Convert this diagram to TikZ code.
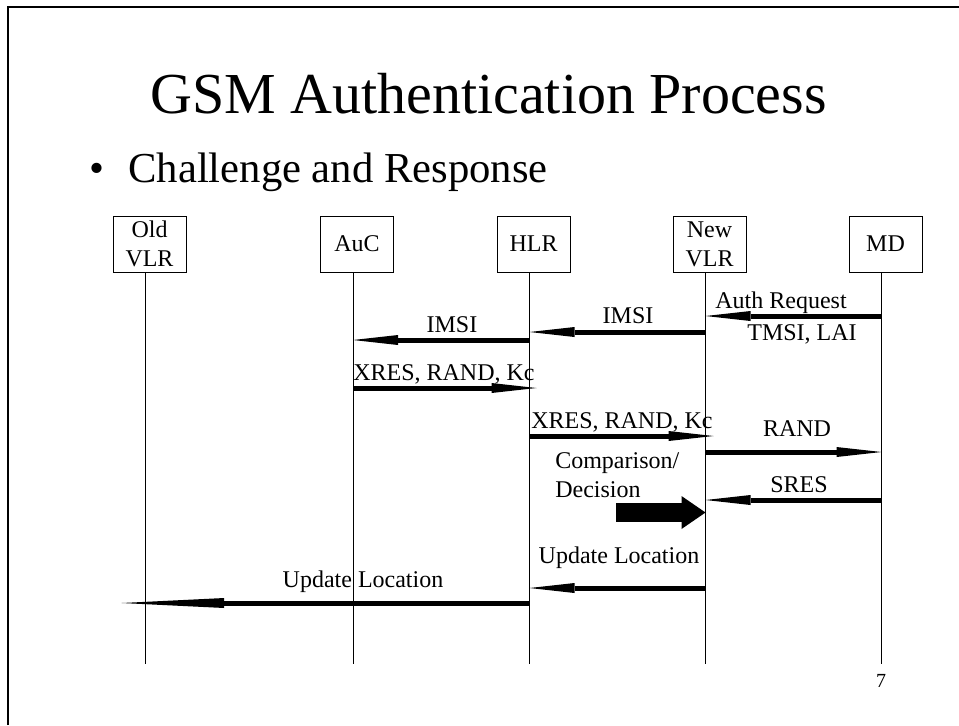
\documentclass[tikz,border=0pt]{standalone}
\usepackage{fontspec}
\setmainfont{Liberation Serif}
\usetikzlibrary{arrows.meta,calc}
\begin{document}
\begin{tikzpicture}[x=0.75pt,y=-0.75pt,
  box/.style={draw,line width=0.75pt,minimum width=54.75pt,minimum height=42pt,inner sep=0pt,align=center,font=\fontsize{18}{21.75}\selectfont},
  life/.style={line width=0.75pt},
  msg/.style={line width=3.75pt,-{Triangle[length=33.75pt,width=7.5pt,line width=0pt]}},
  lbl/.style={anchor=base,inner sep=0pt,font=\fontsize{18}{21.75}\selectfont},
  frame/.style={line width=1.5pt},
  block/.style={line width=14.25pt,-{Triangle[length=18pt,width=24.75pt,line width=0pt]}}
]
\useasboundingbox (0,0) rectangle (959,725);
\draw[frame] (8,725) -- (8,7) -- (959,7);

\node[anchor=base,inner sep=0pt,font=\fontsize{43.5}{50}\selectfont] (title) at (488.5,113) {GSM Authentication Process};
\node[anchor=base,inner sep=0pt,font=\fontsize{32}{38}\selectfont] (bul) at (97,182) {\textbullet};
\node[anchor=base west,inner sep=0pt,font=\fontsize{32}{38}\selectfont] (sub) at (128,182) {Challenge and Response};

\node[box] (oldvlr) at (149.5,244) {Old\\VLR};
\node[box] (auc) at (357,244) {AuC};
\node[box] (hlr) at (533.5,244) {HLR};
\node[box] (nvlr) at (709.5,244) {New\\VLR};
\node[box] (md) at (885.5,244) {MD};

\foreach \n in {oldvlr,auc,hlr,nvlr,md}{
  \coordinate (\n-l) at ($(\n.south)+(-4,0)$);
  \draw[life] (\n-l) -- (\n-l |- 0,664);
}

\draw[msg] (md-l |- 0,316) -- (nvlr-l |- 0,316);
\node[lbl] (l1) at (781,308) {Auth Request};
\node[lbl] (l1b) at (802,340) {TMSI, LAI};

\draw[msg] (nvlr-l |- 0,332) -- (hlr-l |- 0,332);
\node[lbl] (l2) at (628,323) {IMSI};

\draw[msg] (hlr-l |- 0,340) -- (auc-l |- 0,340);
\node[lbl] (l3) at (452,332) {IMSI};

\draw[msg] (auc-l |- 0,388) -- ($(hlr-l |- 0,388)+(7,0)$);
\node[lbl,anchor=base west] (l4) at (353,380) {XRES, RAND, Kc};

\draw[msg] (hlr-l |- 0,436) -- ($(nvlr-l |- 0,436)+(8,0)$);
\node[lbl,anchor=base west] (l5) at (531,428) {XRES, RAND, Kc};

\draw[msg] (nvlr-l |- 0,452) -- (md-l |- 0,452);
\node[lbl] (l6) at (797,436) {RAND};

\node[lbl,anchor=base west] (cmp1) at (555,468) {Comparison/};
\node[lbl,anchor=base west] (cmp2) at (555,497) {Decision};

\draw[msg] (md-l |- 0,500) -- (nvlr-l |- 0,500);
\node[lbl] (l7) at (799,492) {SRES};

\coordinate (bstart) at (616,512.5);
\draw[block] (bstart) -- (nvlr-l |- bstart);

\draw[msg] (nvlr-l |- 0,588) -- (hlr-l |- 0,588);
\node[lbl] (l8) at (619,563) {Update Location};

\draw[msg,-{Triangle[length=77pt,width=7.5pt,line width=0pt]}] (hlr-l |- 0,603) -- ($(oldvlr-l |- 0,603)+(-24,0)$);
\node[lbl] (l9) at (363,587) {Update Location};

\node[lbl,font=\fontsize{15}{18}\selectfont] (pg) at (881,687) {7};
\end{tikzpicture}
\end{document}
